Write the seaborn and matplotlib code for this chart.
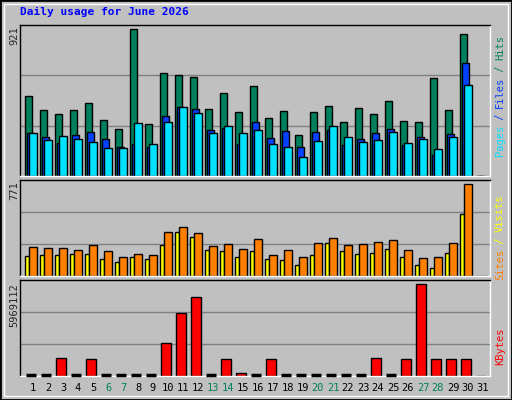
import matplotlib
matplotlib.use("Agg")
import matplotlib.pyplot as plt
import seaborn as sns
import numpy as np
from matplotlib.patches import Rectangle

days = list(range(1, 32))
hits = [501,413,388,413,457,351,294,921,326,645,633,620,420,520,401,564,363,407,257,401,439,338,426,388,470,345,338,614,413,890,0]
files = [269,244,207,257,276,232,182,200,182,376,432,420,288,301,200,338,238,282,182,276,288,194,232,269,294,194,244,132,263,708,0]
pages = [269,226,251,232,213,175,175,332,200,338,432,395,269,313,269,288,200,182,119,219,313,244,213,226,276,207,232,169,244,570,0]
visits = [246,237,237,221,263,212,162,187,179,369,413,360,254,271,229,313,179,221,162,279,321,263,271,288,304,221,154,162,279,771,0]
sites = [170,179,179,187,187,145,120,162,145,263,371,330,221,212,162,212,145,137,95,179,279,212,187,196,229,162,95,70,196,522,0]
kbytes = [0,0,1150000,0,1085000,0,0,0,0,2127000,4081000,5123000,0,1085000,174000,0,1085000,0,0,0,0,0,0,1150000,0,1085000,5969112,1085000,1085000,1085000,0]
weekend = [6,7,13,14,20,21,27,28]
title = "Daily usage for June 2026"

sns.set_style("white")
plt.rcParams['font.family'] = ['DejaVu Sans Mono']
BG = "#C0C0C0"
fig = plt.figure(figsize=(5.12, 4.0), dpi=100, facecolor=BG)
W, H = 512, 400
def ax_at(top, bot):
    return fig.add_axes([20/W, 1-bot/H, 470/W, (bot-top)/H])

x = np.arange(31)
ax1 = ax_at(25, 176)
ax2 = ax_at(180, 276)
ax3 = ax_at(280, 376)
kw = dict(align="edge", edgecolor="black", linewidth=1)
ax1.bar(x, hits, width=0.5, color="#00805C", **kw)
ax1.bar(x + 0.13, files, width=0.5, color="#0040FF", **kw)
ax1.bar(x + 0.27, pages, width=0.5, color="#00E0FF", **kw)
ax2.bar(x, sites, width=0.3, color="#FFFF00", **kw)
ax2.bar(x + 0.27, visits, width=0.5, color="#FF8000", **kw)
ax3.bar(x + 0.07, kbytes, width=0.68, color="#FF0000", **kw)
for d, k in zip(x, kbytes):
    if k == 0 and d < 30:
        ax3.plot([d + 0.07, d + 0.75], [60000, 60000], color="black", lw=2.5,
                 solid_capstyle="butt", zorder=5, clip_on=False)

for ax, top in [(ax1, 948), (ax2, 805), (ax3, 6249000)]:
    ax.set_facecolor(BG)
    ax.set_xlim(-0.33, 31.0)
    ax.set_ylim(0, top)
    for f in (1/3, 2/3):
        ax.axhline(top * f, color="#808080", lw=1, zorder=0)
    ax.set_xticks([]); ax.set_yticks([])
    for s in ax.spines.values():
        s.set_visible(True); s.set_linewidth(1)
    ax.spines["top"].set_color("black"); ax.spines["left"].set_color("black")
    ax.spines["bottom"].set_color("white"); ax.spines["right"].set_color("white")

fs = 7.5
fig.text(20/W, 1-12/H, title, color="#0000FF", fontsize=8, fontweight="bold", va="center")
fig.text(14/W, 1-26/H, "921", rotation=90, fontsize=fs, ha="center", va="top")
fig.text(14/W, 1-181/H, "771", rotation=90, fontsize=fs, ha="center", va="top")
fig.text(14/W, 1-283/H, "5969112", rotation=90, fontsize=fs, ha="center", va="top")

def stacked(yc, parts):
    total = sum(len(t) for t, _ in parts)
    ch = 6.0
    y = yc + total * ch / 2
    for t, c in parts:
        fig.text(500/W, 1 - y/H, t, rotation=90, color=c, fontsize=fs, ha="center", va="bottom")
        y -= len(t) * ch

stacked(96, [("Pages", "#00E0FF"), (" / ", "#0040FF"), ("Files", "#0040FF"), (" / ", "#00805C"), ("Hits", "#00805C")])
stacked(238, [("Sites", "#FF8000"), (" / ", "#FFFF00"), ("Visits", "#FFFF00")])
stacked(347, [("KBytes", "#FF0000")])

for d in days:
    c = "#00805C" if d in weekend else "black"
    fig.text((25 + 15*(d-1) + 8)/W, 1-388/H, str(d), color=c, fontsize=fs, ha="center", va="center")

fig.patches.append(Rectangle((0, 0), 1, 1, transform=fig.transFigure, fill=False, edgecolor="black", lw=2))
fig.patches.append(Rectangle((4/W, 4/H), 1-8/W, 1-8/H, transform=fig.transFigure, fill=False, edgecolor="white", lw=1))
fig.savefig("out.png", dpi=100, facecolor=BG)
